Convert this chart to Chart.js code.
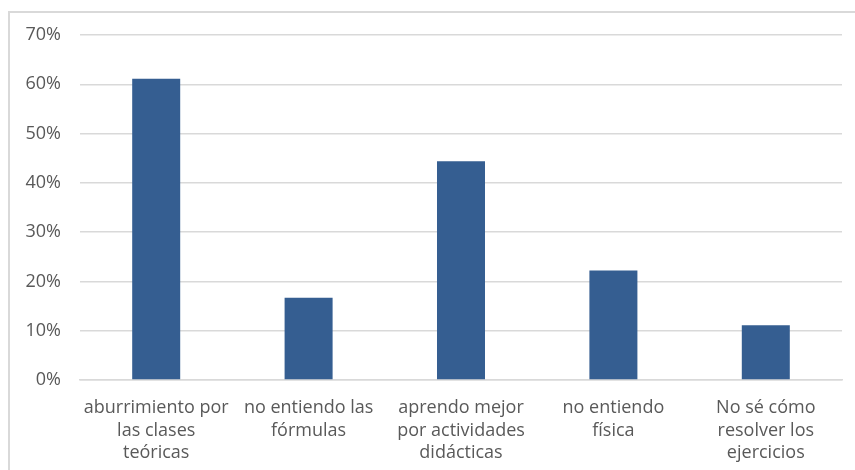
<!DOCTYPE html>
<html>
<head>
<meta charset="utf-8">
<script src="https://cdn.jsdelivr.net/npm/chart.js@4"></script>
<style>
  html, body { margin: 0; padding: 0; background: #fff; }
  #frame {
    position: absolute; left: 8px; top: 11px; width: 900px; height: 500px;
    border: 2px solid #d9d9d9; box-sizing: border-box;
  }
  #wrap { position: absolute; left: 0; top: 0; width: 855px; height: 470px; }
</style>
</head>
<body>
<div id="frame"></div>
<div id="wrap"><canvas id="chart" width="855" height="470"></canvas></div>
<script>
// Motivos (porcentaje de respuestas)
const categorias = [
  ["aburrimiento por", "las clases", "teóricas"],
  ["no entiendo las", "fórmulas"],
  ["aprendo mejor", "por actividades", "didácticas"],
  ["no entiendo", "física"],
  ["No sé cómo", "resolver los", "ejercicios"]
];
const porcentajes = [61.1, 16.7, 44.4, 22.2, 11.1];
const ejeY = { min: 0, max: 70, paso: 10 };

const grisTexto = '#595959';
const grisLinea = '#d9d9d9';

new Chart(document.getElementById('chart'), {
  type: 'bar',
  data: {
    labels: categorias,
    datasets: [{
      data: porcentajes,
      backgroundColor: '#355e91',
      categoryPercentage: 1.0,
      barPercentage: 0.315
    }]
  },
  options: {
    responsive: false,
    animation: false,
    layout: { padding: { top: 35, right: 13, left: 0, bottom: 0 } },
    plugins: { legend: { display: false }, tooltip: { enabled: false } },
    scales: {
      x: {
        grid: { display: false },
        border: { color: grisLinea, width: 1.5 },
        ticks: {
          color: grisTexto,
          font: { family: 'Open Sans', size: 18, lineHeight: 1.25 },
          padding: 9,
          maxRotation: 0,
          autoSkip: false
        },
        afterFit: s => { s.height = 90; }
      },
      y: {
        min: ejeY.min,
        max: ejeY.max,
        grid: { color: grisLinea, lineWidth: 1.5, drawTicks: false },
        border: { display: false },
        ticks: {
          stepSize: ejeY.paso,
          color: grisTexto,
          font: { family: 'Open Sans', size: 18 },
          padding: 19,
          callback: v => v + '%'
        },
        afterFit: s => { s.width = 80; }
      }
    }
  }
});
</script>
</body>
</html>
